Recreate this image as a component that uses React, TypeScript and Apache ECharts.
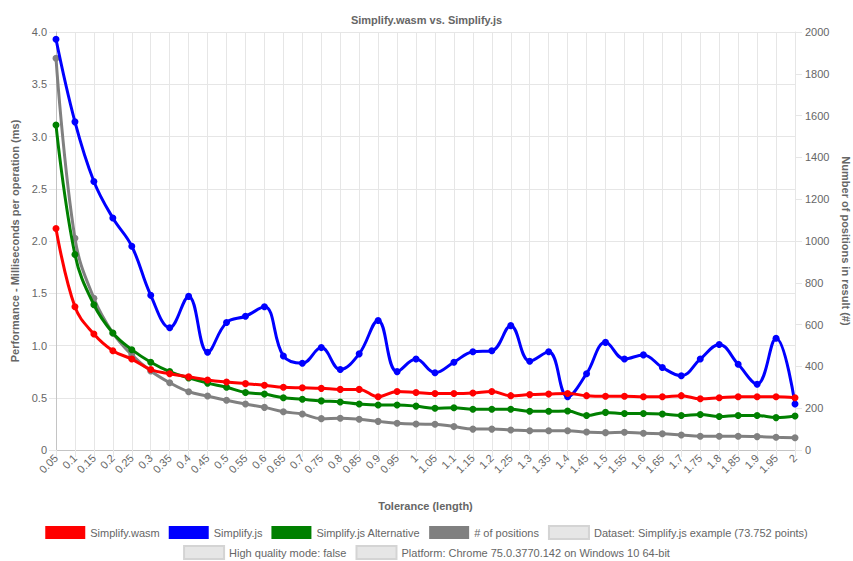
import React, { useEffect, useRef } from "react";
import * as echarts from "echarts";

const categories = [
  "0.05","0.1","0.15","0.2","0.25","0.3","0.35","0.4","0.45","0.5",
  "0.55","0.6","0.65","0.7","0.75","0.8","0.85","0.9","0.95","1",
  "1.05","1.1","1.15","1.2","1.25","1.3","1.35","1.4","1.45","1.5",
  "1.55","1.6","1.65","1.7","1.75","1.8","1.85","1.9","1.95","2",
];

const wasmMs = [
  2.12,1.37,1.11,0.95,0.87,0.77,0.73,0.70,0.67,0.65,
  0.635,0.62,0.60,0.595,0.59,0.58,0.58,0.51,0.56,0.55,
  0.54,0.54,0.545,0.56,0.52,0.53,0.535,0.54,0.52,0.515,
  0.515,0.51,0.51,0.52,0.49,0.50,0.51,0.51,0.51,0.50,
];

const jsMs = [
  3.93,3.14,2.57,2.22,1.95,1.48,1.17,1.47,0.935,1.22,
  1.28,1.37,0.90,0.83,0.98,0.77,0.92,1.24,0.75,0.87,
  0.74,0.84,0.94,0.95,1.19,0.85,0.94,0.51,0.73,1.03,
  0.87,0.91,0.79,0.71,0.87,1.01,0.82,0.63,1.07,0.44,
];

const altMs = [
  3.11,1.87,1.39,1.12,0.96,0.84,0.75,0.69,0.64,0.60,
  0.55,0.535,0.50,0.485,0.47,0.46,0.44,0.43,0.43,0.42,
  0.40,0.405,0.39,0.39,0.39,0.37,0.37,0.373,0.33,0.36,
  0.35,0.35,0.345,0.33,0.34,0.32,0.33,0.33,0.31,0.325,
];

const positions = [
  1874,1013,726,560,455,378,322,279,258,238,
  220,204,183,172,150,152,147,137,128,124,
  123,112,100,100,96,92,92,92,86,83,
  85,80,78,72,66,66,66,64,61,59,
];

const legendRow1 = [
  "Simplify.wasm",
  "Simplify.js",
  "Simplify.js Alternative",
  "# of positions",
  "Dataset: Simplify.js example (73.752 points)",
];
const legendRow2 = [
  "High quality mode: false",
  "Platform: Chrome 75.0.3770.142 on Windows 10 64-bit",
];

const FONT = "'Liberation Sans', Arial, Helvetica, sans-serif";
const FS = 11;
const GRID = "#e6e6e6";
const ZERO = "#c4c4c4";
const TXT = "#666666";

export default function App() {
  const ref = useRef<HTMLDivElement>(null);
  useEffect(() => {
    document.body.style.margin = "0";
    document.body.style.overflow = "hidden";
    if (!ref.current) return;
    const chart = echarts.init(ref.current, undefined, { renderer: "svg" });

    const mkLine = (name: string, color: string, data: number[], yIdx: number, z: number) => ({
      name,
      type: "line",
      data,
      yAxisIndex: yIdx,
      smooth: 0.4,
      symbol: "circle",
      symbolSize: 7,
      showSymbol: true,
      z,
      lineStyle: { color, width: 3 },
      itemStyle: { color },
    });

    const infoItem = (name: string) => ({
      name,
      itemStyle: { color: "#e6e6e6", borderColor: "#d4d4d4", borderWidth: 2 },
    });

    const colored = (name: string, color: string) => ({
      name,
      itemStyle: { color, borderColor: color, borderWidth: 0 },
    });

    const legendBase = {
      left: "center",
      itemWidth: 40,
      itemHeight: 13,
      itemGap: 9,
      icon: "rect",
      padding: 0,
      textStyle: { fontFamily: FONT, fontSize: FS, color: TXT },
    };

    chart.setOption({
      animation: false,
      textStyle: { fontFamily: FONT },
      title: {
        text: "Simplify.wasm vs. Simplify.js",
        left: "center",
        top: 9,
        textStyle: { fontFamily: FONT, fontSize: FS, fontWeight: "bold", color: TXT },
      },
      grid: {
        left: 56,
        right: 58,
        top: 32,
        bottom: 111,
        containLabel: false,
        outerBoundsMode: "none",
      },
      legend: [
        {
          ...legendBase,
          top: 525,
          data: [
            colored("Simplify.wasm", "#ff0000"),
            colored("Simplify.js", "#0000ff"),
            colored("Simplify.js Alternative", "#008000"),
            colored("# of positions", "#808080"),
            infoItem(legendRow1[4]),
          ],
        },
        {
          ...legendBase,
          top: 545,
          data: legendRow2.map(infoItem),
        },
      ],
      xAxis: {
        type: "category",
        data: categories,
        boundaryGap: false,
        name: "Tolerance (length)",
        nameLocation: "middle",
        nameGap: 50,
        nameTextStyle: { fontFamily: FONT, fontSize: FS, fontWeight: "bold", color: TXT },
        axisLine: { show: true, lineStyle: { color: ZERO, width: 1 } },
        axisTick: { show: true, length: 7, interval: 0, lineStyle: { color: GRID } },
        axisLabel: { interval: 0, rotate: 45, fontSize: FS, color: TXT, margin: 6, fontFamily: FONT },
        splitLine: { show: true, interval: 0, lineStyle: { color: GRID, width: 1 } },
      },
      yAxis: [
        {
          type: "value",
          min: 0,
          max: 4,
          interval: 0.5,
          position: "left",
          name: "Performance - Milliseconds per operation (ms)",
          nameLocation: "middle",
          nameRotate: 90,
          nameGap: 35,
          nameTextStyle: { fontFamily: FONT, fontSize: FS, fontWeight: "bold", color: TXT },
          axisLine: { show: true, lineStyle: { color: ZERO } },
          axisTick: { show: true, length: 7, lineStyle: { color: GRID } },
          axisLabel: {
            fontSize: FS,
            color: TXT,
            margin: 9,
            fontFamily: FONT,
            formatter: (v: number) => (v === 0 ? "0" : v.toFixed(1)),
          },
          splitLine: { show: true, lineStyle: { color: GRID } },
        },
        {
          type: "value",
          min: 0,
          max: 2000,
          interval: 200,
          position: "right",
          name: "Number of positions in result (#)",
          nameLocation: "middle",
          nameRotate: -90,
          nameGap: 44,
          nameTextStyle: { fontFamily: FONT, fontSize: FS, fontWeight: "bold", color: TXT },
          axisLine: { show: true, lineStyle: { color: GRID } },
          axisTick: { show: true, length: 7, lineStyle: { color: GRID } },
          axisLabel: {
            fontSize: FS,
            color: TXT,
            margin: 10,
            fontFamily: FONT,
            formatter: (v: number) => String(v),
          },
          splitLine: { show: false },
        },
      ],
      series: [
        mkLine("# of positions", "#808080", positions, 1, 2),
        mkLine("Simplify.js Alternative", "#008000", altMs, 0, 3),
        mkLine("Simplify.js", "#0000ff", jsMs, 0, 4),
        mkLine("Simplify.wasm", "#ff0000", wasmMs, 0, 5),
        { name: legendRow1[4], type: "line", data: [], itemStyle: { color: "#e6e6e6" } },
        { name: legendRow2[0], type: "line", data: [], itemStyle: { color: "#e6e6e6" } },
        { name: legendRow2[1], type: "line", data: [], itemStyle: { color: "#e6e6e6" } },
      ],
    });
    return () => chart.dispose();
  }, []);
  return <div ref={ref} style={{ width: 853, height: 561 }} />;
}
